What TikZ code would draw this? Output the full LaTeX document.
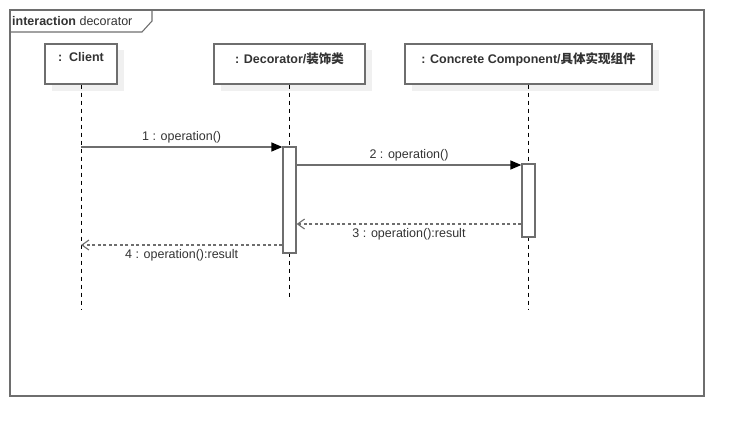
\documentclass[tikz,border=0pt]{standalone}
\usepackage{fontspec}
\setmainfont{Liberation Sans}
\newfontfamily\cjk{Noto Sans CJK SC}
\usepackage{xcolor}
\usetikzlibrary{arrows.meta, positioning, calc}

\definecolor{umlline}{HTML}{6E6E6E}
\definecolor{umltext}{HTML}{333333}
\definecolor{umlshadow}{HTML}{F0F0F0}

\begin{document}
\begin{tikzpicture}[
  x=1pt, y=-1pt,
  every node/.style = {font=\fontsize{12.5}{15}\selectfont, text=umltext},
  lifebox/.style = {
    rectangle, draw=umlline, line width=1.4pt, fill=white,
    minimum height=40pt, inner sep=0pt
  },
  boxlbl/.style  = {font=\fontsize{12.5}{15}\selectfont\bfseries, anchor=north},
  actbar/.style  = {rectangle, draw=umlline, line width=1.3pt, fill=white,
                    minimum width=13pt, inner sep=0pt},
  lifeln/.style  = {black, line width=0.8pt, dash pattern=on 4pt off 4pt},
  callarr/.style = {-{Triangle[length=11pt,width=9pt,color=black]}, umlline,
                    line width=1.3pt},
  retarr/.style  = {-{Straight Barb[length=7pt,width=10pt]}, umlline,
                    line width=1.1pt, dash pattern=on 3pt off 2.5pt},
  msglbl/.style  = {inner sep=3pt}
]
\useasboundingbox (0,0) rectangle (744,437);

%% ---- frame ----
\draw[umlline, line width=1.3pt] (10,10) rectangle (704,396);
\draw[umlline, line width=1.1pt] (10,32) -- (142,32) -- (152,21) -- (152,10);
\node[anchor=base west, inner sep=0pt] (ttl) at (12,25)
  {\textbf{interaction} decorator};

%% ---- shadows + lifeline heads ----
\fill[umlshadow] (52,50) rectangle (124,91);
\fill[umlshadow] (221,50) rectangle (372,91);
\fill[umlshadow] (412,50) rectangle (659,91);

\node[lifebox, minimum width=72pt]  (cl)  at (81,64) {};
\node[lifebox, minimum width=151pt] (dec) at (289.5,64) {};
\node[lifebox, minimum width=247pt] (cc)  at (528.5,64) {};

\node[boxlbl] at ($(cl.north)+(0,6)$) {:\ \ Client};
\node[boxlbl] at ($(dec.north)+(0,6)$) {: Decorator/{\cjk 装饰类}};
\node[boxlbl] at ($(cc.north)+(0,6)$) {: Concrete Component/{\cjk 具体实现组件}};

%% ---- lifelines ----
\coordinate (clend)  at (81,309);
\coordinate (decend) at (289.5,298);
\coordinate (ccend)  at (528.5,309);

\draw[lifeln] (cl.south) -- (clend);
\draw[lifeln] (dec.south) -- (decend);
\draw[lifeln] (cc.south) -- (ccend);

%% ---- activations ----
\node[actbar, minimum height=106pt] (decact) at (289.5,200) {};
\node[actbar, minimum height=73pt]  (ccact)  at (528.5,200.5) {};

%% ---- messages ----
\coordinate (m1s) at (81,147);
\coordinate (m4e) at (81,245);

\draw[callarr] (m1s) -- (m1s -| decact.west)
  node[msglbl, midway, above] (m1) {1 : operation()};
\draw[callarr] (decact.east |- 0,165) -- (ccact.west |- 0,165)
  node[msglbl, midway, above] (m2) {2 : operation()};
\draw[retarr] (ccact.west |- 0,224) -- (decact.east |- 0,224)
  node[msglbl, midway, below, yshift=-1pt] (m3) {3 : operation():result};
\draw[retarr] (decact.west |- m4e) -- (m4e)
  node[msglbl, midway, below, yshift=-1pt] (m4) {4 : operation():result};

\end{tikzpicture}
\end{document}
